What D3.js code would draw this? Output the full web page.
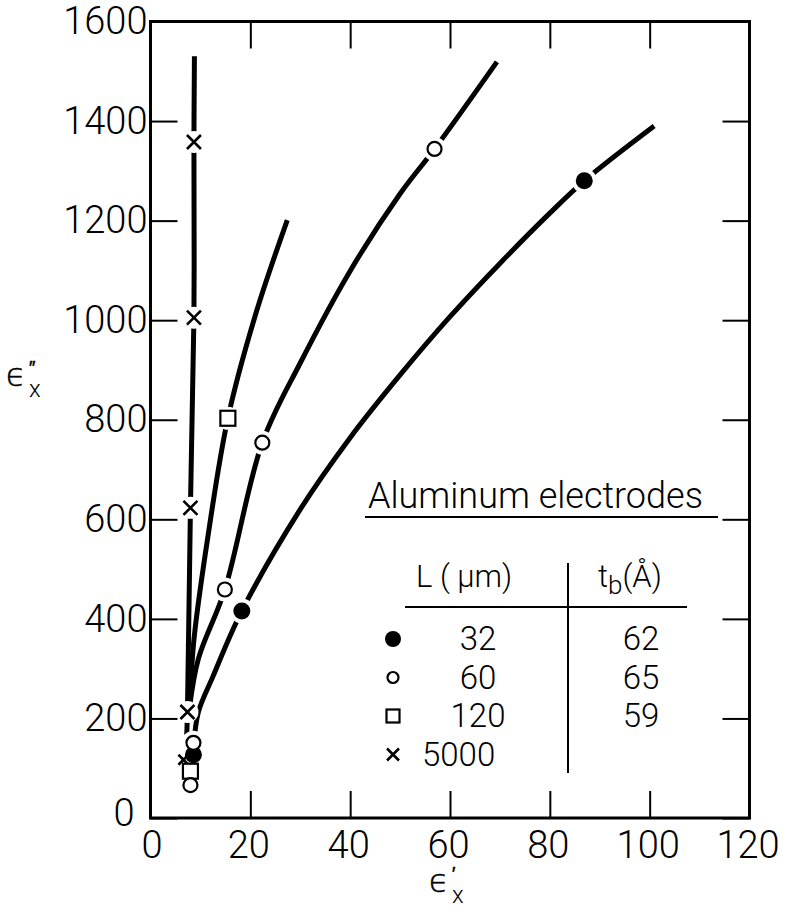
<!DOCTYPE html>
<html>
<head>
<meta charset="utf-8">
<script src="https://cdn.jsdelivr.net/npm/d3@7"></script>
<style>
  body { margin: 0; background: #fff; }
  text { font-family: Roboto, "Open Sans", sans-serif; font-weight: 300; fill: #000; }
  text.sym { font-family: "DejaVu Sans", sans-serif; font-weight: 200; }
</style>
</head>
<body>
<script>
// tick labels
const xTicks = [0, 20, 40, 60, 80, 100, 120];
const yTicks = [0, 200, 400, 600, 800, 1000, 1200, 1400, 1600];

// measured points [eps', eps''] for each electrode spacing
const pts32 = [[8.6, 127], [18.3, 416], [86.9, 1280]];
const pts60 = [[8.0, 66], [8.6, 151], [14.9, 459], [22.4, 754], [56.9, 1344]];
const pts120 = [[8.0, 94], [15.5, 803]];
const pts5000 = [[6.6, 117], [7.4, 213], [8.0, 623], [8.7, 1005], [8.7, 1358]];

// hand drawn curves
const curve32 = [[8.6, 140], [9.6, 213], [12.5, 284], [18.3, 416], [30, 620], [40, 764], [50, 890],
  [60, 1007], [70, 1114], [80, 1215], [86.9, 1280], [100.9, 1390]];
const curve60 = [[7.8, 220], [9.6, 320], [14.9, 459], [22.4, 754], [30, 914], [40, 1099], [50, 1254],
  [56.9, 1344], [69.4, 1519]];
const curve120 = [[7.6, 200], [8.0, 260], [8.7, 358], [11.5, 565], [15.5, 803], [21, 1010], [27.4, 1201]];
const curve5000 = [[7.2, 150], [7.4, 213], [8.0, 623], [8.7, 1005], [8.7, 1358], [8.8, 1530]];

// legend table
const legendL = ["32", "60", "120", "5000"];
const legendTb = ["62", "65", "59", ""];
const legendShape = ["filled", "open", "square", "cross"];

const width = 788, height = 911;

const x = d3.scaleLinear().domain([0, 120]).range([150.5, 749.5]);
const y = d3.scaleLinear().domain([0, 1600]).range([818, 21.5]);

const svg = d3.select("body").append("svg")
    .attr("width", width)
    .attr("height", height);

// axes, ticks pointing inward
const tick = 27;
svg.append("g")
    .attr("transform", `translate(0,${y(0)})`)
    .call(d3.axisBottom(x).tickValues(xTicks).tickSize(-tick).tickPadding(13).tickFormat(d3.format("d")))
    .call(g => g.select(".domain").remove())
    .call(g => g.selectAll("text").attr("font-size", 38).attr("dx", d => d === 0 ? 1 : -2));
svg.append("g")
    .attr("transform", `translate(${x(0)},0)`)
    .call(d3.axisLeft(y).tickValues(yTicks).tickSize(-tick).tickPadding(3).tickFormat(d3.format("d")))
    .call(g => g.select(".domain").remove())
    .call(g => g.selectAll("text").attr("font-size", 38).attr("dx", d => d === 0 ? -13 : 0)
        .attr("dy", d => d === 0 ? "0.2em" : "0.32em"));
svg.append("g")
    .attr("transform", `translate(0,${y(1600)})`)
    .call(d3.axisTop(x).tickValues(xTicks).tickSize(-tick).tickFormat(""))
    .call(g => g.select(".domain").remove());
svg.append("g")
    .attr("transform", `translate(${x(120)},0)`)
    .call(d3.axisRight(y).tickValues(yTicks).tickSize(-tick).tickFormat(""))
    .call(g => g.select(".domain").remove());
svg.selectAll(".tick line").attr("stroke", "#000").attr("stroke-width", 2);

// frame
svg.append("rect")
    .attr("x", x(0)).attr("y", y(1600))
    .attr("width", x(120) - x(0)).attr("height", y(0) - y(1600))
    .attr("fill", "none").attr("stroke", "#000").attr("stroke-width", 3);

// axis titles: epsilon with prime above and subscript x below
function epsTitle(px, py, prime) {
  svg.append("text").attr("class", "sym").attr("x", px).attr("y", py)
      .attr("font-size", 32).attr("stroke", "#000").attr("stroke-width", 0.6).text("\u03F5");
  svg.append("text").attr("class", "sym").attr("x", px + 23).attr("y", py - 12)
      .attr("font-size", 18).attr("stroke", "#000").attr("stroke-width", 0.6).text(prime);
  svg.append("text").attr("x", px + 23).attr("y", py + 11).attr("font-size", 24).text("x");
}
epsTitle(6, 386, "\u2033");
epsTitle(429, 892, "\u2032");

// curves
const line = d3.line()
    .x(d => x(d[0]))
    .y(d => y(d[1]))
    .curve(d3.curveCatmullRom.alpha(0.5));

[curve32, curve60, curve120, curve5000].forEach(c => {
  svg.append("path")
      .datum(c)
      .attr("d", line)
      .attr("fill", "none")
      .attr("stroke", "#000")
      .attr("stroke-width", 5);
});

// marker drawing
function marker(g, shape, cx, cy, s) {
  if (shape === "filled") {
    g.append("circle").attr("cx", cx).attr("cy", cy).attr("r", s).attr("fill", "#000");
  } else if (shape === "open") {
    g.append("circle").attr("cx", cx).attr("cy", cy).attr("r", s - 1)
        .attr("fill", "#fff").attr("stroke", "#000").attr("stroke-width", 2.2);
  } else if (shape === "square") {
    g.append("rect").attr("x", cx - s).attr("y", cy - s).attr("width", 2 * s).attr("height", 2 * s)
        .attr("fill", "#fff").attr("stroke", "#000").attr("stroke-width", 2.2);
  } else {
    g.append("path")
        .attr("d", `M${cx - s},${cy - s}L${cx + s},${cy + s}M${cx - s},${cy + s}L${cx + s},${cy - s}`)
        .attr("stroke", "#000").attr("stroke-width", 2.6).attr("fill", "none");
  }
}

const sets = [
  {pts: pts5000, shape: "cross", s: 7},
  {pts: pts120, shape: "square", s: 7.5},
  {pts: pts32, shape: "filled", s: 8.5},
  {pts: pts60, shape: "open", s: 8}
];

// white knockouts so the lines break around the markers
const halos = svg.append("g");
sets.forEach(set => {
  set.pts.forEach(d => {
    halos.append("circle").attr("cx", x(d[0])).attr("cy", y(d[1]))
        .attr("r", set.s + 4).attr("fill", "#fff");
  });
});
const marks = svg.append("g");
sets.forEach(set => {
  set.pts.forEach(d => marker(marks, set.shape, x(d[0]), y(d[1]), set.pts === pts5000 && d[1] < 150 ? 5 : set.s));
});

// legend
const lg = svg.append("g");
lg.append("text").attr("x", 368).attr("y", 508).attr("font-size", 36).text("Aluminum electrodes");
lg.append("line").attr("x1", 365).attr("x2", 718).attr("y1", 517).attr("y2", 517)
    .attr("stroke", "#000").attr("stroke-width", 2);
lg.append("text").attr("x", 416).attr("y", 587).attr("font-size", 31).text("L ( \u03BCm)");
const tb = lg.append("text").attr("x", 598).attr("y", 587).attr("font-size", 31);
tb.append("tspan").text("t");
tb.append("tspan").attr("dy", 7).attr("font-size", 26).text("b");
tb.append("tspan").attr("dy", -7).text("(\u00C5)");
lg.append("line").attr("x1", 405).attr("x2", 687).attr("y1", 607).attr("y2", 607)
    .attr("stroke", "#000").attr("stroke-width", 2);
lg.append("line").attr("x1", 568).attr("x2", 568).attr("y1", 563).attr("y2", 773)
    .attr("stroke", "#000").attr("stroke-width", 2);

const rowY = d3.scaleBand().domain(legendL).range([627, 781]);
legendL.forEach((l, i) => {
  const base = rowY(l) + 23;
  const shape = legendShape[i];
  const s = shape === "filled" ? 8 : shape === "open" ? 6.5 : shape === "square" ? 6.5 : 6;
  marker(lg, shape, 393, base - 11, s);
  lg.append("text").attr("x", shape === "cross" ? 422 : 478).attr("y", base)
      .attr("text-anchor", shape === "cross" ? "start" : "middle")
      .attr("font-size", 33).text(l);
  lg.append("text").attr("x", 641).attr("y", base)
      .attr("text-anchor", "middle").attr("font-size", 33).text(legendTb[i]);
});
</script>
</body>
</html>
